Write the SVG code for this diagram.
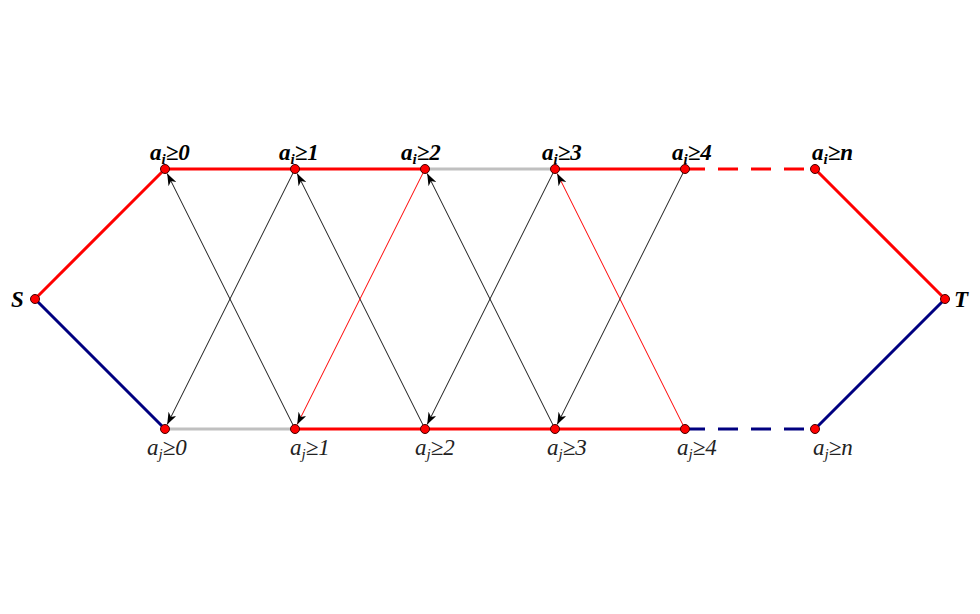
<svg xmlns="http://www.w3.org/2000/svg" width="980" height="614" viewBox="0 0 980 614">
<defs>
<style>
.thick{stroke-width:3;fill:none}
.red{stroke:#ff0000}
.navy{stroke:#000080}
.gray{stroke:#c0c0c0}
.dash{stroke-dasharray:20 13}
.thin{stroke-width:1;fill:none}
.blk{stroke:#1a1a1a}
.rthin{stroke:#ff0000}
.node{fill:#ff0000;stroke:#400000;stroke-width:1}
.tl{font-family:"Liberation Serif",serif;font-size:23px;font-weight:bold;font-style:italic;fill:#000}
.bl{font-family:"Liberation Serif",serif;font-size:23px;font-style:italic;fill:#222}
.sub{font-size:15px}
</style>
<marker id="ah" markerWidth="12" markerHeight="9" refX="12" refY="4.5" orient="auto" markerUnits="userSpaceOnUse">
<path d="M0,0 L12,4.5 L0,9 L3.5,4.5 Z" fill="#000"/>
</marker>
</defs>
<g id="connectors">
<line class="thick red" x1="35" y1="299" x2="165" y2="169"/>
<line class="thick navy" x1="35" y1="299" x2="165" y2="429"/>
<line class="thick red" x1="165" y1="169" x2="425" y2="169"/>
<line class="thick gray" x1="425" y1="169" x2="555" y2="169"/>
<line class="thick red" x1="555" y1="169" x2="685" y2="169"/>
<line class="thick red dash" x1="685" y1="169" x2="815" y2="169"/>
<line class="thick gray" x1="165" y1="429" x2="295" y2="429"/>
<line class="thick red" x1="295" y1="429" x2="685" y2="429"/>
<line class="thick navy dash" x1="685" y1="429" x2="815" y2="429"/>
<line class="thick red" x1="815" y1="169" x2="945" y2="299"/>
<line class="thick navy" x1="815" y1="429" x2="945" y2="299"/>
<line class="thin blk" x1="295" y1="429" x2="167.2" y2="173.5" marker-end="url(#ah)"/>
<line class="thin blk" x1="295" y1="169" x2="167.2" y2="424.5" marker-end="url(#ah)"/>
<line class="thin blk" x1="425" y1="429" x2="297.2" y2="173.5" marker-end="url(#ah)"/>
<line class="thin rthin" x1="425" y1="169" x2="297.2" y2="424.5" marker-end="url(#ah)"/>
<line class="thin blk" x1="555" y1="429" x2="427.2" y2="173.5" marker-end="url(#ah)"/>
<line class="thin blk" x1="555" y1="169" x2="427.2" y2="424.5" marker-end="url(#ah)"/>
<line class="thin rthin" x1="685" y1="429" x2="557.2" y2="173.5" marker-end="url(#ah)"/>
<line class="thin blk" x1="685" y1="169" x2="557.2" y2="424.5" marker-end="url(#ah)"/>
</g>
<g id="S"><circle class="node" cx="35" cy="299" r="4.5"/><text class="tl" x="11" y="307">S</text></g>
<g id="T"><circle class="node" cx="945" cy="299" r="4.5"/><text class="tl" x="954" y="307">T</text></g>
<g id="top0"><circle class="node" cx="165" cy="169" r="4.5"/><text class="tl" x="150" y="160">a<tspan class="sub" dy="4">i</tspan><tspan dy="-4">≥0</tspan></text></g>
<g id="top1"><circle class="node" cx="295" cy="169" r="4.5"/><text class="tl" x="279" y="160">a<tspan class="sub" dy="4">i</tspan><tspan dy="-4">≥1</tspan></text></g>
<g id="top2"><circle class="node" cx="425" cy="169" r="4.5"/><text class="tl" x="401" y="160">a<tspan class="sub" dy="4">i</tspan><tspan dy="-4">≥2</tspan></text></g>
<g id="top3"><circle class="node" cx="555" cy="169" r="4.5"/><text class="tl" x="542" y="160">a<tspan class="sub" dy="4">i</tspan><tspan dy="-4">≥3</tspan></text></g>
<g id="top4"><circle class="node" cx="685" cy="169" r="4.5"/><text class="tl" x="672" y="160">a<tspan class="sub" dy="4">i</tspan><tspan dy="-4">≥4</tspan></text></g>
<g id="topn"><circle class="node" cx="815" cy="169" r="4.5"/><text class="tl" x="812" y="160">a<tspan class="sub" dy="4">i</tspan><tspan dy="-4">≥n</tspan></text></g>
<g id="bot0"><circle class="node" cx="165" cy="429" r="4.5"/><text class="bl" x="147" y="455">a<tspan class="sub" dy="4">j</tspan><tspan dy="-4">≥0</tspan></text></g>
<g id="bot1"><circle class="node" cx="295" cy="429" r="4.5"/><text class="bl" x="290" y="455">a<tspan class="sub" dy="4">j</tspan><tspan dy="-4">≥1</tspan></text></g>
<g id="bot2"><circle class="node" cx="425" cy="429" r="4.5"/><text class="bl" x="415" y="455">a<tspan class="sub" dy="4">j</tspan><tspan dy="-4">≥2</tspan></text></g>
<g id="bot3"><circle class="node" cx="555" cy="429" r="4.5"/><text class="bl" x="547" y="455">a<tspan class="sub" dy="4">j</tspan><tspan dy="-4">≥3</tspan></text></g>
<g id="bot4"><circle class="node" cx="685" cy="429" r="4.5"/><text class="bl" x="677" y="455">a<tspan class="sub" dy="4">j</tspan><tspan dy="-4">≥4</tspan></text></g>
<g id="botn"><circle class="node" cx="815" cy="429" r="4.5"/><text class="bl" x="813" y="455">a<tspan class="sub" dy="4">j</tspan><tspan dy="-4">≥n</tspan></text></g>
</svg>
